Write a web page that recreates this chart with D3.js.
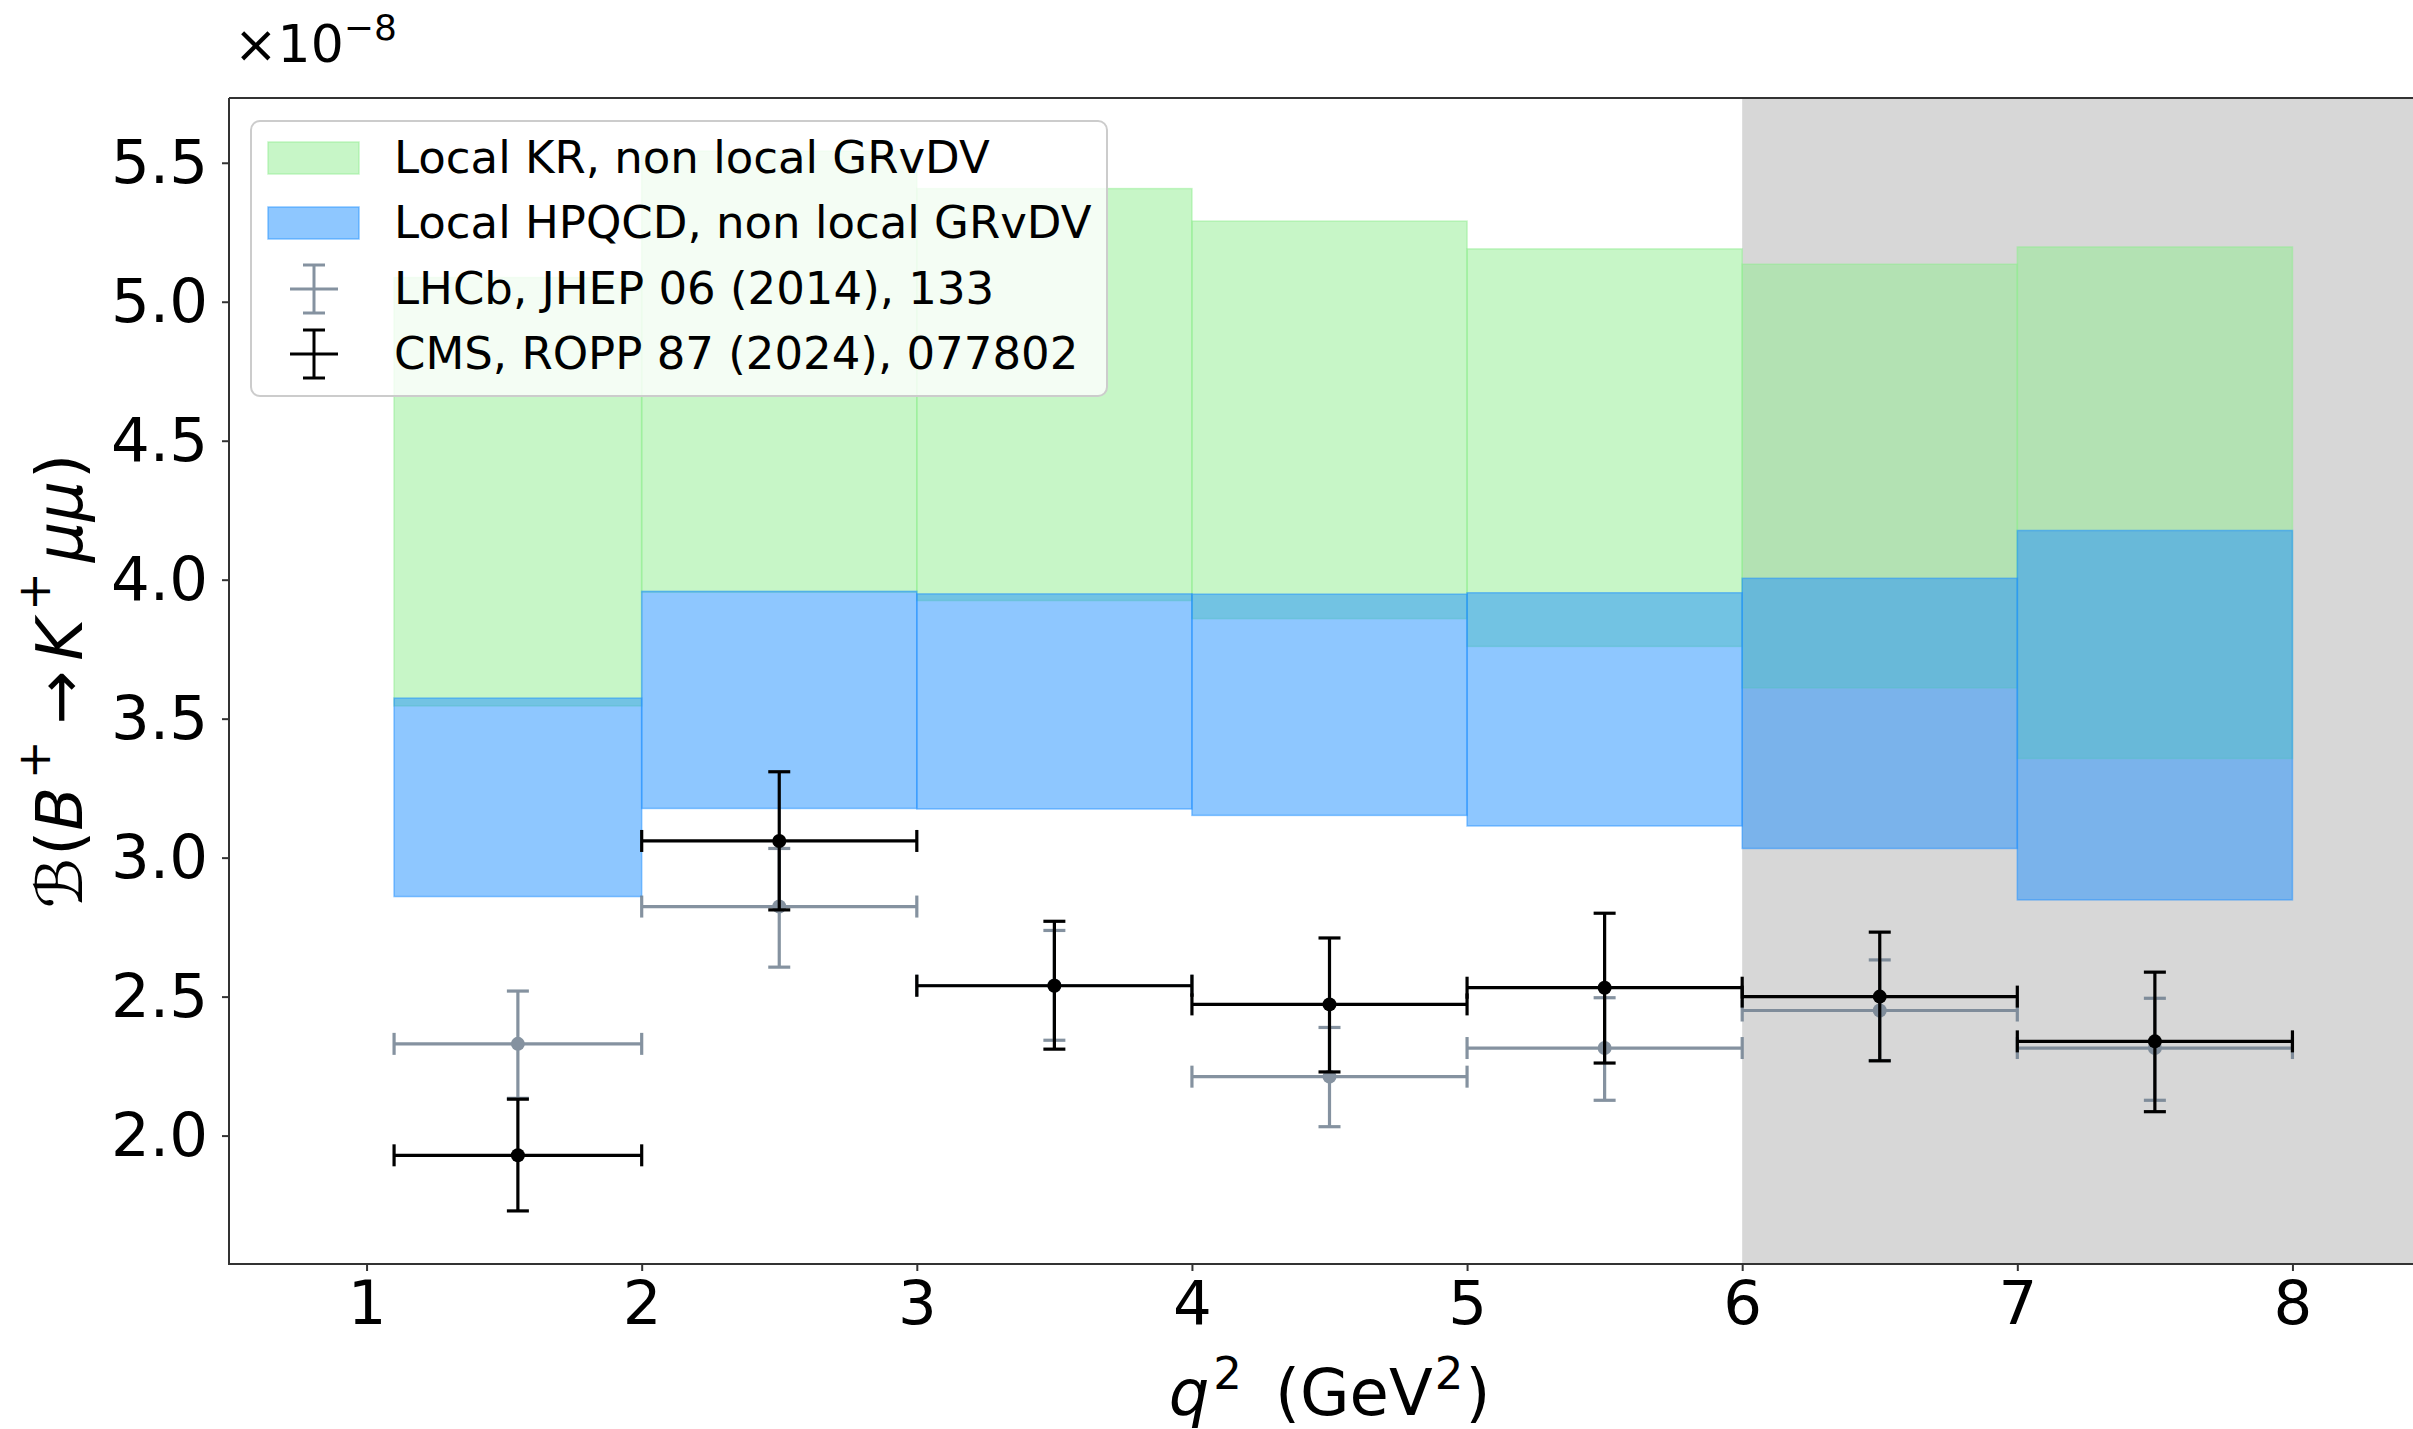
<!DOCTYPE html>
<html>
<head>
<meta charset="utf-8">
<script src="https://cdn.jsdelivr.net/npm/d3@7"></script>
<style>
  body { margin: 0; background: #fff; }
  svg { display: block; font-family: "DejaVu Sans", sans-serif; }
</style>
</head>
<body>
<svg id="chart" width="2413" height="1429"></svg>
<script>
// q^2 bins
var binLo = [1.1, 2, 3, 4, 5, 6, 7];
var binHi = [2, 3, 4, 5, 6, 7, 8];

// Local KR, non local GRvDV band
var krLo = [3.546, 3.955, 3.925, 3.86, 3.76, 3.611, 3.357];
var krHi = [5.087, 5.542, 5.407, 5.29, 5.19, 5.135, 5.197];

// Local HPQCD, non local GRvDV band
var hpLo = [2.86, 3.177, 3.175, 3.152, 3.114, 3.033, 2.848];
var hpHi = [3.574, 3.958, 3.949, 3.948, 3.953, 4.005, 4.177];

// measurements
var binMid = [1.55, 2.5, 3.5, 4.5, 5.5, 6.5, 7.5];
var lhcbVal = [2.330, 2.824, 2.54, 2.212, 2.315, 2.450, 2.315];
var lhcbUp  = [2.52, 3.033, 2.738, 2.389, 2.496, 2.632, 2.494];
var lhcbDn  = [2.134, 2.606, 2.343, 2.032, 2.127, 2.27, 2.127];
var cmsVal = [1.929, 3.060, 2.539, 2.472, 2.532, 2.500, 2.339];
var cmsUp  = [2.131, 3.309, 2.771, 2.711, 2.80, 2.732, 2.588];
var cmsDn  = [1.729, 2.812, 2.311, 2.229, 2.261, 2.269, 2.086];

var xTicks = [1, 2, 3, 4, 5, 6, 7, 8];
var yTicks = [2.0, 2.5, 3.0, 3.5, 4.0, 4.5, 5.0, 5.5];
var legendLabels = ["Local KR, non local GRvDV", "Local HPQCD, non local GRvDV",
                    "LHCb, JHEP 06 (2014), 133", "CMS, ROPP 87 (2024), 077802"];
var shadeFrom = 6;

var svg = d3.select("#chart");
var axL = 229, axR = 2430, axT = 98, axB = 1264;

var x = d3.scaleLinear().domain([0.5, 8.5]).range([axL, axR]);
var y = d3.scaleLinear().domain([1.538, 5.733]).range([axB, axT]);

var green = "#90ee90", blue = "#1e90ff", slate = "#708090";

// shaded region
svg.append("rect")
  .attr("x", x(shadeFrom)).attr("y", axT)
  .attr("width", x(8.5) - x(shadeFrom)).attr("height", axB - axT)
  .style("fill", "#d7d7d7");

function bands(lo, hi, col) {
  svg.append("g").selectAll("rect")
    .data(binLo.map(function(d, i) { return {a: d, b: binHi[i], lo: lo[i], hi: hi[i]}; }))
    .enter().append("rect")
    .attr("x", function(d) { return x(d.a); })
    .attr("y", function(d) { return y(d.hi); })
    .attr("width", function(d) { return x(d.b) - x(d.a); })
    .attr("height", function(d) { return y(d.lo) - y(d.hi); })
    .style("fill", col).style("fill-opacity", 0.5)
    .style("stroke", col).style("stroke-opacity", 0.5).style("stroke-width", 1.5);
}
bands(krLo, krHi, green);
bands(hpLo, hpHi, blue);

function errorbars(val, up, dn, col, op) {
  var g = svg.append("g").style("stroke", col).style("stroke-width", 3.2)
    .style("opacity", op);
  var cap = 11;
  for (var i = 0; i < binMid.length; i++) {
    var cx = x(binMid[i]), cy = y(val[i]);
    g.append("line").attr("x1", x(binLo[i])).attr("x2", x(binHi[i])).attr("y1", cy).attr("y2", cy);
    g.append("line").attr("x1", cx).attr("x2", cx).attr("y1", y(up[i])).attr("y2", y(dn[i]));
    g.append("line").attr("x1", cx - cap).attr("x2", cx + cap).attr("y1", y(up[i])).attr("y2", y(up[i]));
    g.append("line").attr("x1", cx - cap).attr("x2", cx + cap).attr("y1", y(dn[i])).attr("y2", y(dn[i]));
    g.append("line").attr("x1", x(binLo[i])).attr("x2", x(binLo[i])).attr("y1", cy - cap).attr("y2", cy + cap);
    g.append("line").attr("x1", x(binHi[i])).attr("x2", x(binHi[i])).attr("y1", cy - cap).attr("y2", cy + cap);
    g.append("circle").attr("cx", cx).attr("cy", cy).attr("r", 7)
      .style("fill", col).style("stroke", "none");
  }
}
errorbars(lhcbVal, lhcbUp, lhcbDn, slate, 0.85);
errorbars(cmsVal, cmsUp, cmsDn, "#000", 1);

// spines
svg.append("path")
  .attr("d", "M" + axL + "," + axT + "V" + axB + "H" + axR + "M" + axL + "," + axT + "H" + axR)
  .style("fill", "none").style("stroke", "#333").style("stroke-width", 2);

var xAxis = svg.append("g").attr("transform", "translate(0," + axB + ")")
  .call(d3.axisBottom(x).tickValues(xTicks).tickFormat(d3.format("d")).tickSize(7).tickPadding(10));
var yAxis = svg.append("g").attr("transform", "translate(" + axL + ",0)")
  .call(d3.axisLeft(y).tickValues(yTicks).tickFormat(d3.format(".1f")).tickSize(7).tickPadding(14));
[xAxis, yAxis].forEach(function(a) {
  a.select(".domain").remove();
  a.selectAll(".tick line").style("stroke", "#333").style("stroke-width", 2);
  a.selectAll(".tick text").style("font-family", "DejaVu Sans").style("font-size", "61px").style("fill", "#000");
});

// offset text
var off = svg.append("text").attr("x", 234).attr("y", 62)
  .style("font-size", "52px").style("fill", "#000");
off.append("tspan").text("×10");
off.append("tspan").attr("dy", -22).style("font-size", "36px").text("−8");

// x label
var xl = svg.append("text").attr("x", (axL + axR) / 2).attr("y", 1415)
  .attr("text-anchor", "middle").style("font-size", "64px").style("fill", "#000");
xl.append("tspan").style("font-style", "italic").text("q");
xl.append("tspan").attr("dx", 4).attr("dy", -26).style("font-size", "45px").text("2");
xl.append("tspan").attr("dy", 26).text("\u00a0\u2009(GeV");
xl.append("tspan").attr("dx", 2).attr("dy", -26).style("font-size", "45px").text("2");
xl.append("tspan").attr("dx", 2).attr("dy", 26).text(")");

// y label
var yl = svg.append("text").attr("transform", "translate(82," + (axT + axB) / 2 + ") rotate(-90)")
  .attr("text-anchor", "middle").style("font-size", "64px").style("fill", "#000");
yl.append("tspan").style("font-style", "italic").text("ℬ");
yl.append("tspan").attr("dx", 2).text("(");
yl.append("tspan").style("font-style", "italic").text("B");
yl.append("tspan").attr("dx", 8).attr("dy", -32).style("font-size", "46px").text("+");
yl.append("tspan").attr("dx", 16).attr("dy", 32).text("→");
yl.append("tspan").attr("dx", 10).style("font-style", "italic").text("K");
yl.append("tspan").attr("dx", 8).attr("dy", -32).style("font-size", "46px").text("+");
yl.append("tspan").attr("dx", 10).attr("dy", 32).style("font-style", "italic").text("μμ");
yl.append("tspan").attr("dx", 2).text(")");

// legend
var lg = svg.append("g");
lg.append("rect").attr("x", 251).attr("y", 121).attr("width", 856).attr("height", 275)
  .attr("rx", 9).style("fill", "#fff").style("fill-opacity", 0.8)
  .style("stroke", "#cccccc").style("stroke-width", 2);
var rowY = [158, 223, 289, 354];
[green, blue].forEach(function(c, i) {
  lg.append("rect").attr("x", 268).attr("y", rowY[i] - 16).attr("width", 91).attr("height", 32)
    .style("fill", c).style("fill-opacity", 0.5)
    .style("stroke", c).style("stroke-opacity", 0.5).style("stroke-width", 1.5);
});
[[slate, 0.85], ["#000", 1]].forEach(function(c, j) {
  var cy = rowY[j + 2], cx = 314;
  var g = lg.append("g").style("stroke", c[0]).style("opacity", c[1]).style("stroke-width", 3);
  g.append("line").attr("x1", cx - 24).attr("x2", cx + 24).attr("y1", cy).attr("y2", cy);
  g.append("line").attr("x1", cx).attr("x2", cx).attr("y1", cy - 24).attr("y2", cy + 24);
  g.append("line").attr("x1", cx - 11).attr("x2", cx + 11).attr("y1", cy - 24).attr("y2", cy - 24);
  g.append("line").attr("x1", cx - 11).attr("x2", cx + 11).attr("y1", cy + 24).attr("y2", cy + 24);
});
lg.selectAll("text.lbl").data(legendLabels).enter().append("text")
  .attr("class", "lbl")
  .attr("x", 394).attr("y", function(d, i) { return rowY[i] + 15; })
  .style("font-size", "45px").style("fill", "#000")
  .text(function(d) { return d; });
</script>
</body>
</html>
